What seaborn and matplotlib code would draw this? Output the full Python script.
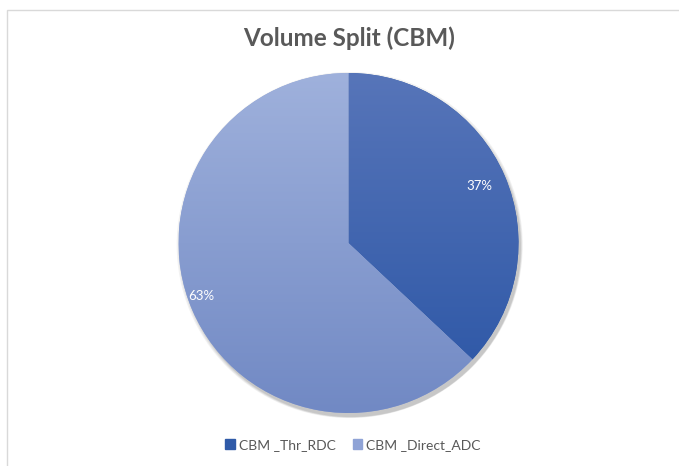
import numpy as np
import matplotlib
matplotlib.use("Agg")
import matplotlib.pyplot as plt
import matplotlib.patches as mpatches
from matplotlib.colors import LinearSegmentedColormap
import seaborn as sns

# Data
categories = ["CBM _Thr_RDC", "CBM _Direct_ADC"]
shares = [37, 63]
title = "Volume Split (CBM)"

# Each slice fades from a lighter top to a deeper bottom
top_colors = ["#5775b9", "#9fb1dc"]
bottom_colors = ["#2a55a5", "#7189c4"]
legend_colors = ["#2f5aa8", "#8fa3d6"]

sns.set_theme(style="white")
plt.rcParams["font.family"] = ["Lato", "DejaVu Sans"]

fig = plt.figure(figsize=(6.79, 4.66), dpi=100)
fig.patch.set_facecolor("white")

# Chart-area frame
fig.add_artist(mpatches.Rectangle((7 / 679, -0.01), 1.0, (466 - 10) / 466 + 0.01,
                                  transform=fig.transFigure, fill=False,
                                  edgecolor="#d9d9d9", linewidth=1.0))

ax = fig.add_axes([178.5 / 679, 53 / 466, 340 / 679, 340 / 466])
ax.set_aspect("equal")
ax.axis("off")

# Soft drop shadow under the pie
for i, a in enumerate([0.05, 0.05, 0.06, 0.07]):
    off = 0.012 + 0.004 * i
    sh = mpatches.Circle((off * 0.6, -off), 1.0 + 0.006 * (3 - i),
                         facecolor="#000000", alpha=a, linewidth=0, zorder=0)
    sh.set_clip_on(False)
    ax.add_patch(sh)

wedges, _ = ax.pie(shares, startangle=90, counterclock=False, radius=1.0,
                   colors=legend_colors, wedgeprops=dict(linewidth=0))
for w in wedges:
    w.set_zorder(1)

# Vertical gradient fill clipped to each slice
grad = np.linspace(0, 1, 256).reshape(-1, 1)
for w, c_top, c_bot in zip(wedges, top_colors, bottom_colors):
    cmap = LinearSegmentedColormap.from_list("g", [c_bot, c_top])
    im = ax.imshow(grad, extent=(-1, 1, -1, 1), origin="lower", cmap=cmap,
                   aspect="auto", zorder=2, interpolation="bilinear")
    im.set_clip_path(w)
ax.set_xlim(-1, 1)
ax.set_ylim(-1, 1)

# Percentage labels (best-fit placement inside each slice)
label_dist = [0.84, 0.92]
label_turn = [0.0, -3.6]
start = 90.0
for v, d, t in zip(shares, label_dist, label_turn):
    span = 360.0 * v / sum(shares)
    mid = np.deg2rad(start - span / 2 + t)
    ax.text(d * np.cos(mid), d * np.sin(mid), f"{v}%", ha="center", va="center",
            color="white", fontsize=9.5, zorder=3)
    start -= span

fig.text(349 / 679, 1 - 38 / 466, title, ha="center", va="center",
         fontsize=17.5, fontweight="bold", color="#595959")

handles = [mpatches.Patch(color=c, label=l) for c, l in zip(legend_colors, categories)]
fig.legend(handles=handles, loc="center", bbox_to_anchor=(353 / 679, 1 - 445 / 466),
           ncol=2, frameon=False, fontsize=10, handlelength=0.7, handleheight=0.7,
           handletextpad=0.3, columnspacing=1.2, labelcolor="#595959")

fig.savefig("out.png", dpi=100, facecolor="white")
